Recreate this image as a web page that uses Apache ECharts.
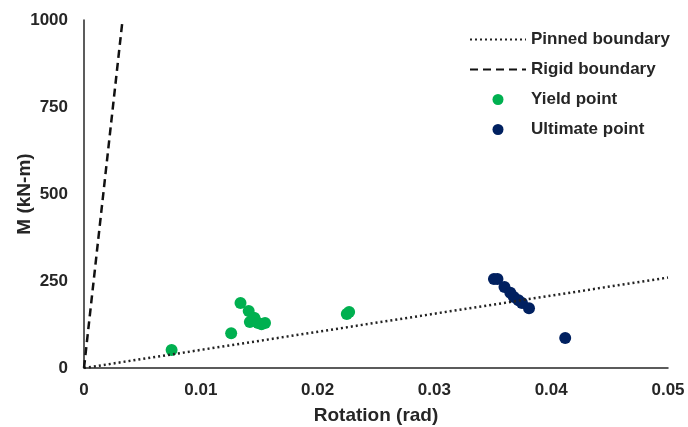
<!DOCTYPE html>
<html>
<head>
<meta charset="utf-8">
<script src="https://cdn.jsdelivr.net/npm/echarts@6/dist/echarts.min.js"></script>
<style>
  html, body { margin: 0; padding: 0; background: #fff; }
  #chart { width: 688px; height: 427px; }
</style>
</head>
<body>
<div id="chart"></div>
<script>
// boundary lines (rotation, moment)
var pinnedX = [0, 0.05];
var pinnedM = [0, 260];
var rigidX = [0, 0.0033];
var rigidM = [0, 1000];

// yield points
var yieldX = [0.0075, 0.0126, 0.0134, 0.0141, 0.0142, 0.0145, 0.0146, 0.0149, 0.0152, 0.0155, 0.0225, 0.0227];
var yieldM = [52, 100, 187, 164, 132, 144, 144, 129, 126, 129, 155, 161];

// ultimate points
var ultX = [0.0351, 0.0354, 0.0360, 0.0365, 0.0368, 0.0372, 0.0375, 0.0381, 0.0412];
var ultM = [256, 256, 233, 216, 204, 195, 187, 172, 86];

function pairs(xs, ys) {
    return xs.map(function(x, i) { return [x, ys[i]]; });
}

var font = 'Liberation Sans, Arial, sans-serif';
var ink = '#262626';
var chart = echarts.init(document.getElementById('chart'));

chart.setOption({
    animation: false,
    grid: { left: 84, right: 20, top: 20, bottom: 59, outerBoundsMode: 'none', containLabel: false },
    legend: {
        orient: 'vertical',
        left: 464,
        top: 26,
        itemWidth: 56,
        itemHeight: 11,
        itemGap: 13,
        textStyle: { fontFamily: font, fontSize: 17, fontWeight: 'bold', color: ink },
        data: [
            { name: 'Pinned boundary', itemStyle: { opacity: 0 } },
            { name: 'Rigid boundary', itemStyle: { opacity: 0 } },
            'Yield point',
            'Ultimate point'
        ]
    },
    xAxis: {
        type: 'value',
        min: 0, max: 0.05, interval: 0.01,
        name: 'Rotation (rad)',
        nameLocation: 'middle',
        nameGap: 38,
        nameMoveOverlap: false,
        nameTextStyle: { fontFamily: font, fontSize: 19, fontWeight: 'bold', color: ink },
        axisLine: { lineStyle: { color: ink, width: 1.5 } },
        axisTick: { show: false },
        splitLine: { show: false },
        axisLabel: { fontFamily: font, fontSize: 17, fontWeight: 'bold', color: ink, margin: 14 }
    },
    yAxis: {
        type: 'value',
        min: 0, max: 1000, interval: 250,
        name: 'M (kN-m)',
        nameLocation: 'middle',
        nameGap: 50,
        nameMoveOverlap: false,
        nameTextStyle: { fontFamily: font, fontSize: 19, fontWeight: 'bold', color: ink },
        axisLine: { show: true, lineStyle: { color: ink, width: 1.5 } },
        axisTick: { show: false },
        splitLine: { show: false },
        axisLabel: {
            fontFamily: font, fontSize: 17, fontWeight: 'bold', color: ink, margin: 16,
            formatter: function(v) { return String(v); }
        }
    },
    series: [
        {
            name: 'Pinned boundary',
            type: 'line',
            data: pairs(pinnedX, pinnedM),
            symbol: 'none',
            lineStyle: { color: '#222', width: 2.5, type: [2, 3] },
            itemStyle: { color: '#222' }
        },
        {
            name: 'Rigid boundary',
            type: 'line',
            data: pairs(rigidX, rigidM),
            symbol: 'none',
            lineStyle: { color: '#111', width: 2.5, type: [8, 5] },
            itemStyle: { color: '#111' }
        },
        {
            name: 'Yield point',
            type: 'scatter',
            data: pairs(yieldX, yieldM),
            symbolSize: 12,
            itemStyle: { color: '#00b050', opacity: 1 }
        },
        {
            name: 'Ultimate point',
            type: 'scatter',
            data: pairs(ultX, ultM),
            symbolSize: 12,
            itemStyle: { color: '#002060', opacity: 1 }
        }
    ]
});
</script>
</body>
</html>
